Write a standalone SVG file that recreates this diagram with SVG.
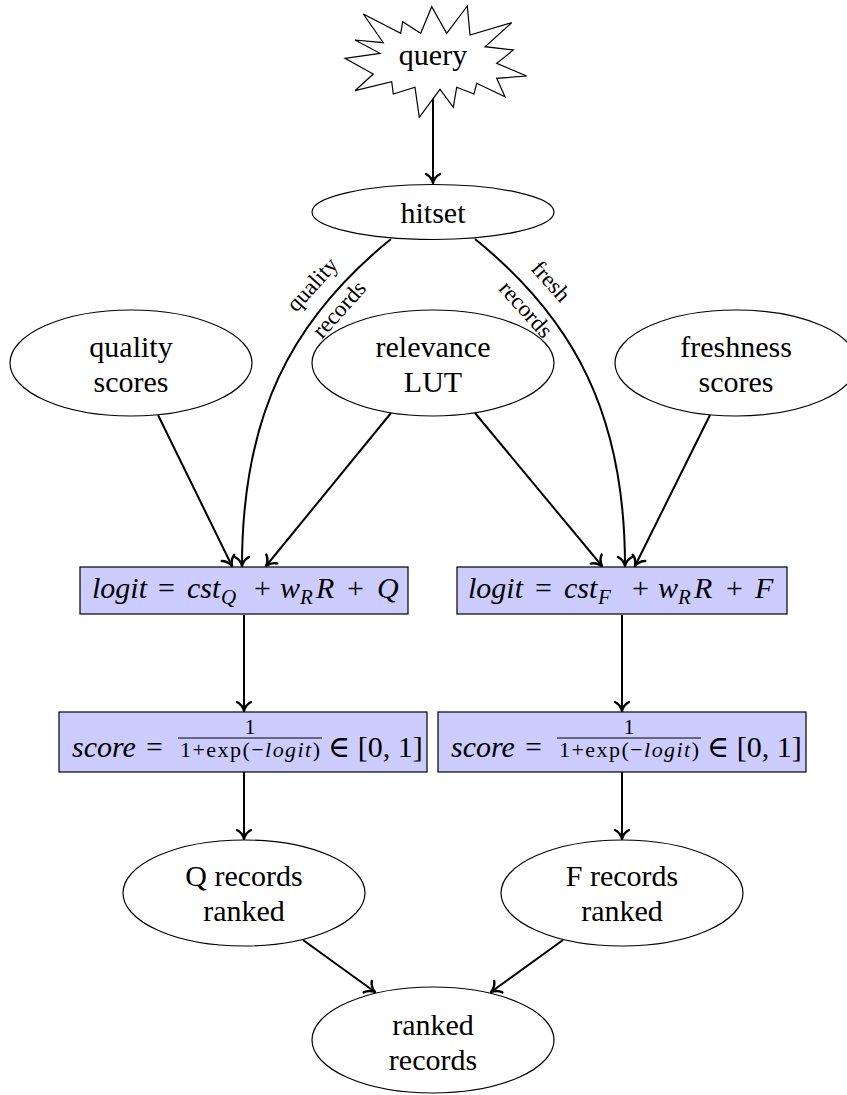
<svg xmlns="http://www.w3.org/2000/svg" width="847" height="1095" viewBox="0 0 847 1095">
<style>
.t{font-family:'Liberation Serif','DejaVu Serif','Times New Roman',serif;font-size:30px;fill:#000;text-anchor:middle}
.m{font-family:'Liberation Serif','DejaVu Serif','Times New Roman',serif;font-size:30px;fill:#000}
.s{font-size:21px}
.d{font-size:22px}
.i{font-style:italic}
.lbl{font-family:'Liberation Serif','DejaVu Serif','Times New Roman',serif;font-size:23px;fill:#000;text-anchor:middle}
.n{fill:#fff;stroke:#000;stroke-width:1.2}
.box{fill:#ccccff;stroke:#000;stroke-width:1.2}
.e{fill:none;stroke:#000;stroke-width:2;marker-end:url(#arr)}
</style>
<defs>
<marker id="arr" markerUnits="userSpaceOnUse" viewBox="-12 -9 14 18" refX="0" refY="0" markerWidth="14" markerHeight="18" orient="auto">
<path d="M-9,-7 C-7,-3 -3,-0.8 0,0 C-3,0.8 -7,3 -9,7" fill="none" stroke="#000" stroke-width="2.4" stroke-linecap="round" stroke-linejoin="round"/>
</marker>
</defs>
<rect width="847" height="1095" fill="#fff"/>
<g id="connectors">
<path class="e" d="M433,89 L433,183"/>
<path class="e" d="M391,239 C290,321 242,417 242,566"/>
<path class="e" d="M475,239 C576,321 625,417 625,566"/>
<path class="e" d="M158,415 L232,566"/>
<path class="e" d="M391,413 L266,566"/>
<path class="e" d="M475,413 L602,566"/>
<path class="e" d="M710,415 L635,566"/>
<path class="e" d="M244,615 L244,711"/>
<path class="e" d="M622,615 L622,711"/>
<path class="e" d="M244,772 L244,839"/>
<path class="e" d="M622,772 L622,839"/>
<path class="e" d="M303,940 L375,992"/>
<path class="e" d="M563,940 L491,992"/>
<text class="lbl" transform="translate(314,286) rotate(-48)" y="5">quality</text>
<text class="lbl" transform="translate(341,311) rotate(-48)" y="5">records</text>
<text class="lbl" transform="translate(549,283) rotate(48)" y="5">fresh</text>
<text class="lbl" transform="translate(524,311) rotate(48)" y="5">records</text>
</g>
<g id="query">
<polygon class="n" points="363.3,14 400.7,33.3 402.7,21.7 420.7,33.3 431.7,6.7 446.7,33.3 467.3,6 470,35 511.7,22.7 485,46.7 513.3,50 496.7,63.3 526.7,76 496.7,78.3 505,96.7 476.7,83.3 474,94 456.7,87.3 453.3,107.3 440,89.3 419.3,117.3 415,87.3 393.3,94 391.7,81.7 355,90.7 373.3,74 345,58.3 380,53.3 355,40 383.3,42.7"/>
<text class="t" x="433" y="65">query</text>
</g>
<g id="hitset">
<ellipse class="n" cx="433" cy="212" rx="121" ry="27.5"/>
<text class="t" x="433" y="223">hitset</text>
</g>
<g id="quality-scores">
<ellipse class="n" cx="131" cy="363" rx="121" ry="53"/>
<text class="t" x="131" y="357">quality</text>
<text class="t" x="131" y="392">scores</text>
</g>
<g id="relevance-lut">
<ellipse class="n" cx="433" cy="363" rx="121" ry="53"/>
<text class="t" x="433" y="357">relevance</text>
<text class="t" x="433" y="392">LUT</text>
</g>
<g id="freshness-scores">
<ellipse class="n" cx="736" cy="363" rx="121" ry="53"/>
<text class="t" x="736" y="357">freshness</text>
<text class="t" x="736" y="392">scores</text>
</g>
<g id="logit-q">
<rect class="box" x="80" y="567" width="328" height="47"/>
<text class="m" y="598"><tspan class="i" x="92">logit</tspan><tspan x="158">=</tspan><tspan class="i" x="187">cst</tspan><tspan class="i s" x="221" dy="6">Q</tspan><tspan x="254" dy="-6">+</tspan><tspan class="i" x="280">w</tspan><tspan class="i s" x="300" dy="6">R</tspan><tspan class="i" x="316" dy="-6">R</tspan><tspan x="347">+</tspan><tspan class="i" x="377">Q</tspan></text>
</g>
<g id="logit-f">
<rect class="box" x="457" y="567" width="330" height="47"/>
<text class="m" y="598"><tspan class="i" x="468">logit</tspan><tspan x="535">=</tspan><tspan class="i" x="564">cst</tspan><tspan class="i s" x="598" dy="6">F</tspan><tspan x="632" dy="-6">+</tspan><tspan class="i" x="658">w</tspan><tspan class="i s" x="678" dy="6">R</tspan><tspan class="i" x="694" dy="-6">R</tspan><tspan x="726">+</tspan><tspan class="i" x="755">F</tspan></text>
</g>
<g id="score-q">
<rect class="box" x="59" y="712" width="368" height="60"/>
<text class="m i" x="72" y="757">score</text>
<text class="m" x="146" y="757">=</text>
<text class="m d" x="250" y="734" text-anchor="middle">1</text>
<line x1="178" y1="738" x2="322" y2="738" stroke="#000" stroke-width="1.2"/>
<text class="m d" x="250" y="757" text-anchor="middle" textLength="140">1+exp(−<tspan class="i">logit</tspan>)</text>
<text class="m" x="328" y="757">∈ [0, 1]</text>
</g>
<g id="score-f">
<rect class="box" x="438" y="712" width="368" height="60"/>
<text class="m i" x="451" y="757">score</text>
<text class="m" x="525" y="757">=</text>
<text class="m d" x="629" y="734" text-anchor="middle">1</text>
<line x1="557" y1="738" x2="701" y2="738" stroke="#000" stroke-width="1.2"/>
<text class="m d" x="629" y="757" text-anchor="middle" textLength="140">1+exp(−<tspan class="i">logit</tspan>)</text>
<text class="m" x="707" y="757">∈ [0, 1]</text>
</g>
<g id="q-records-ranked">
<ellipse class="n" cx="244" cy="893" rx="121" ry="53"/>
<text class="t" x="244" y="886">Q records</text>
<text class="t" x="244" y="921">ranked</text>
</g>
<g id="f-records-ranked">
<ellipse class="n" cx="622" cy="893" rx="121" ry="53"/>
<text class="t" x="622" y="886">F records</text>
<text class="t" x="622" y="921">ranked</text>
</g>
<g id="ranked-records">
<ellipse class="n" cx="433" cy="1040" rx="121" ry="53"/>
<text class="t" x="433" y="1035">ranked</text>
<text class="t" x="433" y="1070">records</text>
</g>
</svg>
